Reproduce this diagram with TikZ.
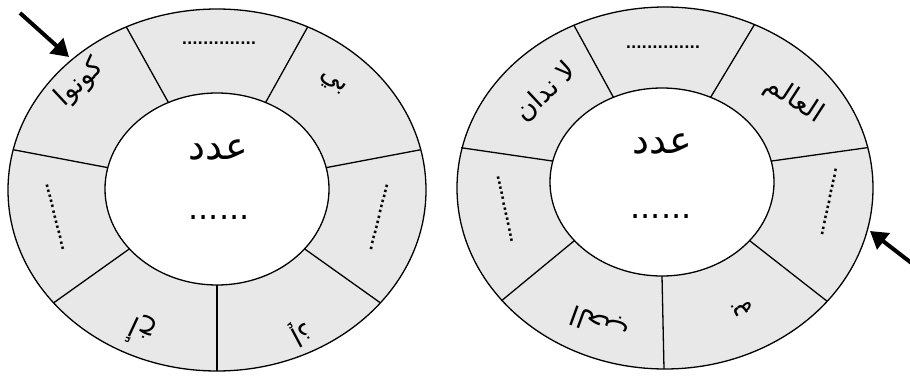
\documentclass[tikz,border=0pt]{standalone}
\usepackage{fontspec}
\usetikzlibrary{arrows.meta}
\newfontfamily\arabicfont[Script=Arabic]{DejaVu Sans}
\newfontfamily\dotfont{DejaVu Sans}
\TeXXeTstate=1
\definecolor{ringgray}{HTML}{E8E8E8}
\begin{document}
\begin{tikzpicture}[x=1pt,y=1pt,
  ring/.style={draw=black,line width=1.3pt,fill=ringgray},
  hole/.style={draw=black,line width=1.3pt,fill=white},
  divider/.style={draw=black,line width=1.3pt},
  word/.style={font=\arabicfont\fontsize{27}{30}\selectfont,inner sep=0pt},
  bigword/.style={font=\arabicfont\fontsize{38}{42}\selectfont,inner sep=0pt},
  bigdots/.style={font=\dotfont\fontsize{32}{34}\selectfont,inner sep=0pt},
  dotrow/.style={font=\dotfont\bfseries\fontsize{14}{16}\selectfont,inner sep=0pt},
  pointer/.style={draw=black,line width=4pt,-{Triangle[length=17pt,width=20pt]}}]
\useasboundingbox (0,0) rectangle (910,-377);

% ---------- left ring ----------
\draw[ring] (217,-190) ellipse [x radius=209, y radius=181];
\foreach \k in {0,...,6}{
  \pgfmathsetmacro\t{270-\k*360/7}
  \coordinate (Li\k) at ({217+112*cos(\t)},{-189+96*sin(\t)});
  \coordinate (Lo\k) at ({217+209*cos(\t)},{-190+181*sin(\t)});
  \draw[divider] (Li\k) -- (Lo\k);
}
\draw[hole] (217,-189) ellipse [x radius=112, y radius=96];

\node[word,rotate=43]  (L1) at (80,-83)  {\beginR كونوا\endR};
\node[dotrow]          (L2) at (219,-43) {..............};
\node[word,rotate=-33] (L3) at (332,-84) {\beginR بي\endR};
\node[dotrow,rotate=-104] (L4) at (379,-217) {.............};
\node[word,rotate=-152] (L5) at (301,-333) {\beginR إذ\endR};
\node[word,rotate=155]  (L6) at (142,-331) {\beginR أخ\endR};
\node[dotrow,rotate=104] (L7) at (55,-217) {.............};
\node[bigword] (Lc) at (218,-150) {\beginR عدد\endR};
\node[bigdots] (Ld) at (219,-218) {......};

% ---------- right ring ----------
\draw[ring] (665,-188) ellipse [x radius=208, y radius=181];
\foreach \k in {0,...,6}{
  \pgfmathsetmacro\t{270-\k*360/7}
  \coordinate (Ri\k) at ({662+112*cos(\t)},{-182+94*sin(\t)});
  \coordinate (Ro\k) at ({664+208*cos(\t)},{-188+181*sin(\t)});
  \draw[divider] (Ri\k) -- (Ro\k);
}
\draw[hole] (662,-182) ellipse [x radius=112, y radius=94];

\node[word,rotate=43]  (R1) at (546,-92)  {\beginR لا ندان\endR};
\node[dotrow]          (R2) at (663,-47)  {..............};
\node[word,rotate=-33] (R3) at (794,-100) {\beginR العالم\endR};
\node[dotrow,rotate=-102] (R4) at (829,-202) {.............};
\node[word,rotate=-150] (R5) at (742,-308) {\beginR به\endR};
\node[word,rotate=160]  (R6) at (600,-323) {\beginR الحب\endR};
\node[dotrow,rotate=102] (R7) at (505,-209) {.............};
\node[bigword] (Rc) at (662,-144) {\beginR عدد\endR};
\node[bigdots] (Rd) at (661,-217) {......};

% ---------- arrows ----------
\coordinate (A1s) at (20,-13);
\coordinate (A1e) at (69,-57);
\draw[pointer] (A1s) -- (A1e);
\coordinate (A2s) at (914,-265);
\coordinate (A2e) at (870,-231);
\draw[pointer] (A2s) -- (A2e);
\end{tikzpicture}
\end{document}
